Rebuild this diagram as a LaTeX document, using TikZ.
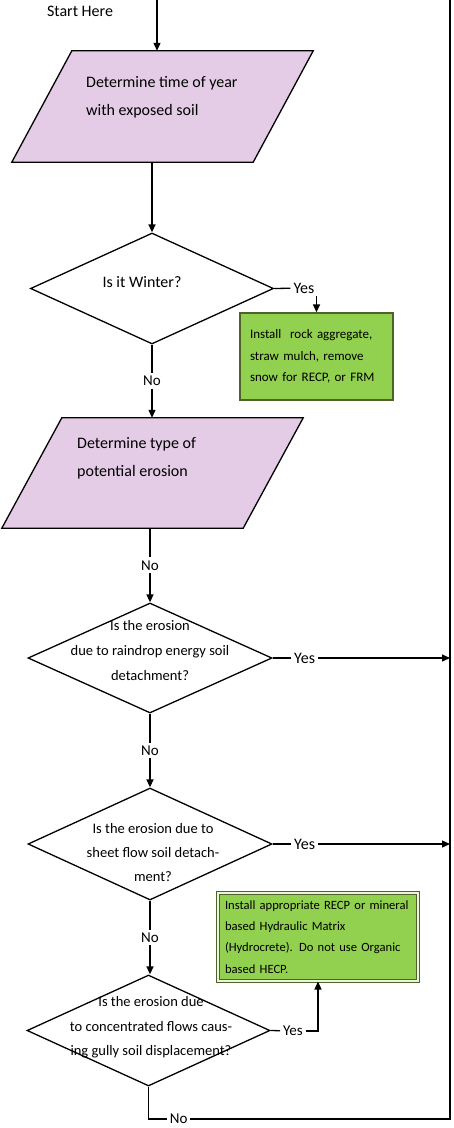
\documentclass[tikz,border=0pt]{standalone}
\usepackage{fontspec}
\setmainfont{Carlito}
\usepackage{xcolor}
\usetikzlibrary{
    arrows.meta,
    shapes.geometric
}
\definecolor{lilac}{RGB}{228,204,230}
\definecolor{leaf}{RGB}{146,208,80}
\definecolor{moss}{RGB}{79,98,40}
\tikzset{
    flow/.style={line width=1.3pt, -{Triangle[length=8pt, width=7pt]}},
    link/.style={line width=1.3pt},
    iobody/.style={minimum width=241pt, minimum height=111pt, inner sep=0pt},
    io/.style={draw, line width=1.3pt, fill=lilac},
    decision/.style={draw, line width=1.3pt, diamond, minimum width=243pt, minimum height=111pt, inner sep=0pt},
    action/.style={draw=moss, line width=1.3pt, fill=leaf, align=left, font=\fontsize{13}{21.4}\selectfont},
    answer/.style={fill=white, inner sep=3pt, font=\fontsize{15}{18}\selectfont}
}

\begin{document}
\begin{tikzpicture}[x=1pt, y=-1pt]
            \useasboundingbox (0,0) rectangle (453,1128);

            \coordinate (start) at (157,0);
            \coordinate (railtop) at (450,0);
            \coordinate (railbot) at (450,1119);
            \node[font=\fontsize{16}{19}\selectfont] (starthere) at (80,11) {Start Here};

            \node[iobody] (time) at (162.5,106.5) {};
            \draw[io] ([xshift=30pt]time.north west) -- ([xshift=30pt]time.north east) -- ([xshift=-30pt]time.south east) -- ([xshift=-30pt]time.south west) -- cycle;
            \node[anchor=west, align=left, inner sep=0pt, font=\fontsize{16}{28}\selectfont] (timetxt) at (86,97) {Determine time of year\\with exposed soil};

            \node[decision] (winter) at (152,288.5) {};
            \node[font=\fontsize{16}{19}\selectfont] (wintertxt) at (142,282) {Is it Winter?};
            \node[answer, font=\fontsize{16}{19}\selectfont] (yes1) at (304,288) {Yes};
            \node[action, minimum width=153pt, minimum height=87pt, text width=133pt, inner xsep=10pt] (cover) at (316.5,356.5) {Install\ \ rock aggregate,\\straw mulch, remove\\snow for RECP, or FRM};

            \node[iobody, minimum height=110pt] (kind) at (152.5,473) {};
            \draw[io] ([xshift=30pt]kind.north west) -- ([xshift=30pt]kind.north east) -- ([xshift=-30pt]kind.south east) -- ([xshift=-30pt]kind.south west) -- cycle;
            \node[anchor=west, align=left, inner sep=0pt, font=\fontsize{16}{28}\selectfont] (kindtxt) at (77,458) {Determine type of\\potential erosion};

            \node[decision, minimum width=244pt, minimum height=110pt] (raindrop) at (150,658) {};
            \node[align=center, font=\fontsize{14.5}{25}\selectfont] (raindroptxt) at (150,651) {Is the erosion\\due to raindrop energy soil\\detachment?};

            \node[decision, minimum width=244pt, minimum height=112pt] (sheet) at (150,844) {};
            \node[align=center, font=\fontsize{14.5}{24}\selectfont] (sheettxt) at (153,853) {Is the erosion due to\\sheet flow soil detach-\\ment?};

            \node[decision] (gully) at (148.5,1030.5) {};
            \node[align=center, font=\fontsize{14.5}{24.5}\selectfont] (gullytxt) at (151,1027.5) {Is the erosion due\\to concentrated flows caus-\\ing gully soil displacement?};
            \node[answer] (yes4) at (293,1031) {Yes};
            \node[action, double=white!80!leaf, double distance=1.2pt, line width=1pt, minimum width=200pt, minimum height=88pt, text width=186pt, inner xsep=7pt, font=\fontsize{12.6}{21.3}\selectfont] (repair) at (318,937) {Install appropriate RECP or mineral\\based Hydraulic Matrix\\(Hydrocrete). Do not use Organic\\based HECP.};

            \draw[flow] (start) -- (start |- time.north);
            \draw[flow] (time.south -| winter.north) -- (winter.north);
            \draw[link] (winter.east) -- (yes1);
            \draw[flow] (yes1.south -| cover.north) -- (cover.north);
            \draw[flow] (winter.south) -- node[answer]{No} (winter.south |- kind.north);

            \draw[flow] (kind.south -| raindrop.north) -- node[answer]{No} (raindrop.north);
            \draw[flow] (raindrop.east) -- node[answer, pos=0.18, font=\fontsize{16}{19}\selectfont]{Yes} (raindrop.east -| railtop);
            \draw[flow] (raindrop.south) -- node[answer]{No} (sheet.north);
            \draw[flow] (sheet.east) -- node[answer, pos=0.18, font=\fontsize{16}{19}\selectfont]{Yes} (sheet.east -| railtop);
            \draw[flow] (sheet.south) -- node[answer]{No} (sheet.south |- gully.north);

            \draw[link] (gully.east) -- (yes4);
            \draw[flow] (yes4.east) -| (repair.south);
            \draw[link] (gully.south) |- node[answer, pos=0.55]{No} (railbot) -- (railtop);
\end{tikzpicture}
\end{document}
